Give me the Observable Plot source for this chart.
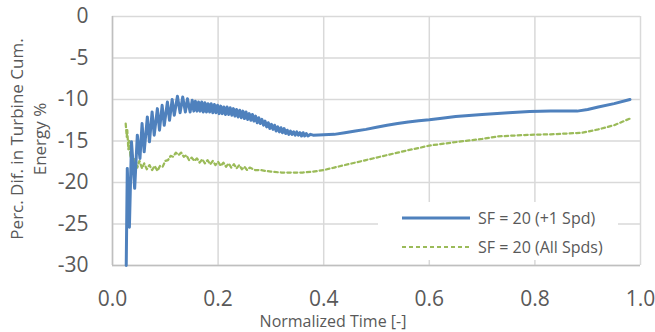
<!DOCTYPE html>
<html>
<head>
<meta charset="utf-8">
<script src="https://cdn.jsdelivr.net/npm/d3@7"></script>
<script src="https://cdn.jsdelivr.net/npm/@observablehq/plot@0.6"></script>
<style>
  html, body { margin: 0; padding: 0; background: #fff; }
  #wrap { position: relative; width: 655px; height: 332px; font-family: "Open Sans", sans-serif; color: #595959; }
  .ytitle { position: absolute; left: 28px; top: 139px; transform: translate(-50%, -50%) rotate(-90deg); white-space: nowrap; text-align: center; font-size: 17px; line-height: 23px; }
  .xtitle { position: absolute; left: 333px; top: 312px; transform: translateX(-50%); white-space: nowrap; font-size: 16px; line-height: 18px; }
  .legend { position: absolute; left: 378px; top: 202px; width: 240px; height: 58px; background: #fff; font-size: 16px; }
  .legend .row { position: absolute; left: 0; height: 20px; display: flex; align-items: center; }
  .legend svg { margin-left: 24px; margin-right: 8px; }
</style>
</head>
<body>
<div id="wrap"></div>
<script>
// ---- data ----
const seriesNames = ["SF = 20 (+1 Spd)", "SF = 20 (All Spds)"];
const xTicks = [0, 0.2, 0.4, 0.6, 0.8, 1.0];
const yTicks = [0, -5, -10, -15, -20, -25, -30];

const blueT = [0.026,0.028,0.032,0.036,0.042,0.047,0.052,0.056,0.060,0.066,0.070,0.075,0.079,0.085,0.089,0.094,0.098,0.104,0.108,0.113,0.117,0.123,0.128,0.133,0.138,0.142,0.147,0.151,
  0.154,0.157,0.160,0.163,0.166,0.169,0.172,0.175,0.178,0.181,0.184,0.187,0.190,0.193,0.196,0.199,0.202,0.205,0.208,0.211,0.214,0.217,0.220,0.223,0.226,0.229,0.232,0.235,0.238,0.241,0.244,0.247,0.250,0.253,0.256,0.259,0.262,0.265,0.268,0.271,0.274,0.277,0.280,0.283,0.286,0.289,0.292,0.295,0.298,0.301,0.304,0.307,0.310,0.313,0.316,0.319,0.322,0.325,0.328,0.331,0.334,0.337,0.340,0.343,0.346,0.349,0.352,0.355,0.358,0.361,0.364,0.367,0.370,0.375,
  0.38,0.40,0.42,0.44,0.46,0.48,0.50,0.52,0.54,0.56,0.58,0.60,0.62,0.65,0.70,0.75,0.79,0.83,0.88,0.90,0.92,0.95,0.98];
const blueV = [-30,-18.3,-25.4,-15.1,-20.7,-14.3,-17.1,-12.9,-16.3,-12.1,-15.1,-11.5,-14.3,-11.1,-13.7,-10.7,-13.1,-10.3,-12.5,-10.0,-11.9,-9.6,-11.6,-9.7,-11.5,-9.9,-11.5,-10.1,
  -11.4,-10.2,-11.4,-10.3,-11.4,-10.3,-11.5,-10.4,-11.5,-10.5,-11.5,-10.5,-11.6,-10.6,-11.6,-10.7,-11.7,-10.8,-11.7,-10.9,-11.8,-10.9,-11.8,-11.0,-11.9,-11.1,-12.0,-11.2,-12.1,-11.3,-12.2,-11.4,-12.3,-11.5,-12.4,-11.7,-12.5,-11.8,-12.6,-12.0,-12.8,-12.2,-12.9,-12.4,-13.1,-12.6,-13.3,-12.8,-13.5,-13.0,-13.6,-13.1,-13.8,-13.3,-13.9,-13.4,-14.0,-13.5,-14.1,-13.7,-14.2,-13.8,-14.2,-13.9,-14.3,-13.9,-14.3,-14.0,-14.4,-14.0,-14.4,-14.1,-14.4,-14.2,
  -14.3,-14.25,-14.2,-14.0,-13.8,-13.6,-13.35,-13.1,-12.9,-12.7,-12.55,-12.45,-12.3,-12.05,-11.8,-11.6,-11.45,-11.4,-11.4,-11.2,-10.9,-10.5,-10.0];

const greenT = [0.025,0.027,0.028,0.030,0.032,0.034,0.036,0.040,0.043,0.047,0.051,0.056,0.060,0.065,0.070,0.075,0.080,0.085,0.090,0.095,0.100,0.105,0.110,0.115,0.120,0.125,0.130,0.135,0.140,0.145,0.150,0.155,0.160,0.165,0.170,0.175,0.180,0.185,0.190,0.195,0.200,0.205,0.210,0.215,0.220,0.225,0.230,0.235,0.240,0.245,0.250,0.255,0.26,0.27,0.28,0.30,0.32,0.34,0.36,0.38,0.40,0.42,0.44,0.46,0.48,0.50,0.52,0.54,0.56,0.58,0.60,0.63,0.66,0.70,0.73,0.76,0.79,0.83,0.86,0.89,0.92,0.95,0.98];
const greenV = [-12.9,-14.5,-13.7,-16.0,-15.0,-17.0,-16.0,-17.9,-17.0,-18.2,-17.4,-18.3,-17.7,-18.4,-17.9,-18.5,-18.0,-18.6,-18.0,-18.1,-17.4,-17.3,-16.8,-16.9,-16.4,-16.7,-16.4,-16.9,-16.7,-17.3,-17.0,-17.4,-17.1,-17.6,-17.2,-17.7,-17.3,-17.8,-17.4,-17.9,-17.5,-18.0,-17.6,-18.1,-17.7,-18.2,-17.8,-18.3,-17.9,-18.4,-18.1,-18.5,-18.2,-18.5,-18.5,-18.7,-18.8,-18.8,-18.8,-18.7,-18.5,-18.2,-17.9,-17.6,-17.3,-17.0,-16.7,-16.4,-16.1,-15.85,-15.55,-15.3,-15.05,-14.75,-14.45,-14.35,-14.25,-14.2,-14.1,-14.0,-13.6,-13.1,-12.3];

const colors = ["#4F81BD", "#9BBB59"];

const blue = blueT.map((t, i) => ({t, v: blueV[i]}));
const green = greenT.map((t, i) => ({t, v: greenV[i]}));

const grid = {stroke: "#d9d9d9", strokeOpacity: 1, strokeWidth: 1.5};

const chart = Plot.plot({
  width: 655,
  height: 332,
  marginLeft: 112,
  marginRight: 15,
  marginTop: 16,
  marginBottom: 67,
  style: {fontFamily: "Open Sans, sans-serif", fontSize: "21px", color: "#595959", background: "transparent"},
  x: {domain: [0, 1], label: null},
  y: {domain: [-30, 0], label: null},
  marks: [
    Plot.gridY(yTicks, grid),
    Plot.gridX(xTicks, grid),
    Plot.ruleX([0], {stroke: "#bfbfbf", strokeWidth: 1.5}),
    Plot.ruleY([-30], {stroke: "#bfbfbf", strokeWidth: 1.5}),
    Plot.axisX(xTicks, {tickSize: 0, tickPadding: 26, tickFormat: d => d.toFixed(1), fontSize: 21, label: null, fill: "#595959"}),
    Plot.axisY(yTicks, {tickSize: 0, tickPadding: 24, tickFormat: d => String(d).replace("\u2212", "-"), fontSize: 21, label: null, fill: "#595959"}),
    Plot.line(green, {x: "t", y: "v", stroke: colors[1], strokeWidth: 2.25, strokeDasharray: "3.5,3"}),
    Plot.line(blue, {x: "t", y: "v", stroke: colors[0], strokeWidth: 3, strokeLinejoin: "round"})
  ]
});

const wrap = document.getElementById("wrap");
wrap.appendChild(chart);

const yt = document.createElement("div");
yt.className = "ytitle";
yt.innerHTML = "Perc. Dif. in Turbine Cum.<br>Energy %";
wrap.appendChild(yt);

const xt = document.createElement("div");
xt.className = "xtitle";
xt.textContent = "Normalized Time [-]";
wrap.appendChild(xt);

const lg = document.createElement("div");
lg.className = "legend";
seriesNames.forEach((name, i) => {
  const row = document.createElement("div");
  row.className = "row";
  row.style.top = (6 + i * 29) + "px";
  const dash = i === 1 ? 'stroke-dasharray="4,3"' : '';
  const sw = i === 1 ? 2 : 3;
  row.innerHTML = `<svg width="68" height="10"><line x1="0" y1="5" x2="68" y2="5" stroke="${colors[i]}" stroke-width="${sw}" ${dash}/></svg><span>${name}</span>`;
  lg.appendChild(row);
});
wrap.appendChild(lg);
</script>
</body>
</html>
